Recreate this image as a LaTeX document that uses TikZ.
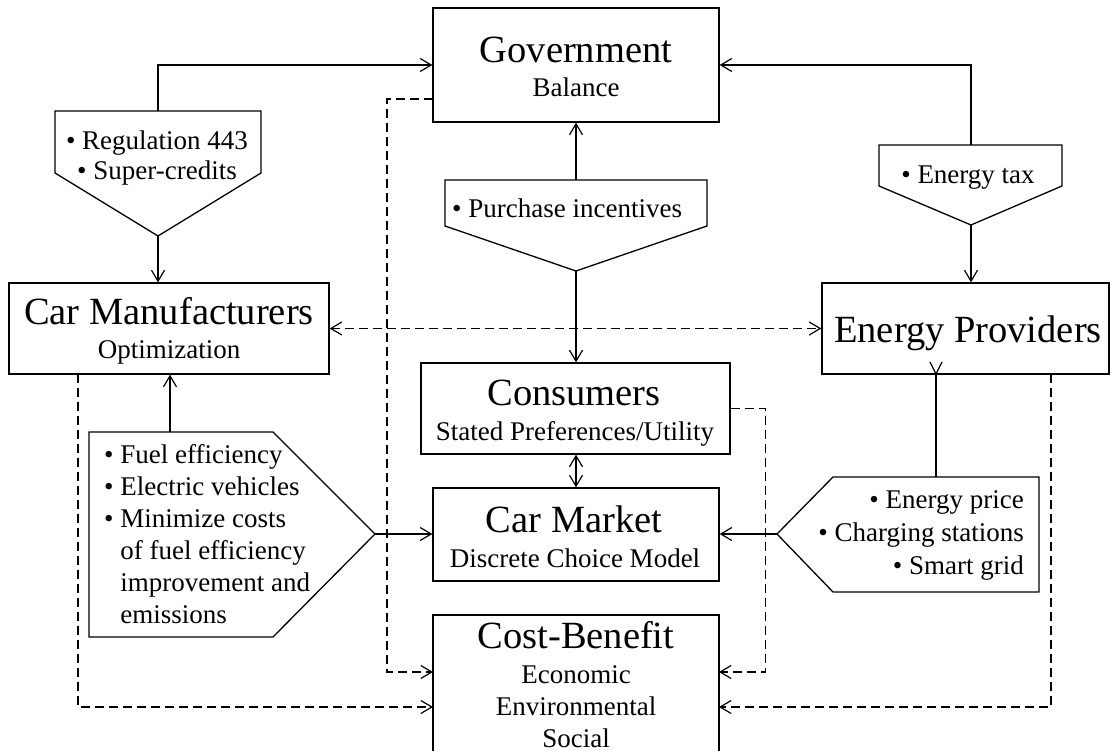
\documentclass[tikz,border=0pt]{standalone}
\usepackage{fontspec}
\setmainfont{Liberation Serif}
\usetikzlibrary{arrows.meta}
\newcommand\ttlfont{\fontsize{38.5}{44}\selectfont}
\newcommand\txtfont{\fontsize{27}{32}\selectfont}
\begin{document}
\begin{tikzpicture}[x=1pt,y=-1pt,
  box/.style={draw, line width=1.3pt, rectangle, inner sep=0pt},
  tag/.style={draw, line width=1.3pt, line join=miter},
  ttl/.style={font=\ttlfont, inner sep=0pt, anchor=base},
  sub/.style={font=\txtfont, inner sep=0pt, anchor=base},
  subl/.style={sub, anchor=base west},
  subr/.style={sub, anchor=base east},
  link/.style={line width=1.2pt},
  conn/.style={link, -{Straight Barb[length=11pt,width=13pt]}},
  dconn/.style={conn, dash pattern=on 9pt off 5pt},
  both/.style={link, {Straight Barb[length=11pt,width=13pt]}-{Straight Barb[length=11pt,width=13pt]}}]

\clip (0,0) rectangle (1111,751);

% main boxes
\node[box, minimum width=286pt, minimum height=114pt] (gov) at (576,65) {};
\node[box, minimum width=320pt, minimum height=91pt]  (cm)  at (169,328.5) {};
\node[box, minimum width=287pt, minimum height=91pt]  (ep)  at (965.5,328.5) {};
\node[box, minimum width=309pt, minimum height=91pt]  (con) at (575.5,408.5) {};
\node[box, minimum width=286pt, minimum height=93pt]  (mkt) at (576,534.5) {};
\node[box, minimum width=286pt, minimum height=155pt] (cb)  at (576,692.5) {};

% box texts
\node[ttl] (gov-t) at (576,63) {Government};
\node[sub] (gov-s) at (576,97) {Balance};
\node[ttl] (cm-t) at (169,325) {Car Manufacturers};
\node[sub] (cm-s) at (169,359) {Optimization};
\node[ttl] (ep-t) at (968,342) {Energy Providers};
\node[ttl] (con-t) at (574,405) {Consumers};
\node[sub] (con-s) at (575,440) {Stated Preferences/Utility};
\node[ttl] (mkt-t) at (574,532) {Car Market};
\node[sub] (mkt-s) at (575,567) {Discrete Choice Model};
\node[ttl] (cb-t) at (576,648) {Cost-Benefit};
\node[sub] (cb-s1) at (576,683) {Economic};
\node[sub] (cb-s2) at (576,715) {Environmental};
\node[sub] (cb-s3) at (576,747) {Social};

% policy tags
\draw[tag] (55,111) -- (261,111) -- (261,173) -- (158,236) -- (55,173) -- cycle;
\coordinate (reg-top) at (158,111);
\coordinate (reg-tip) at (158,236);
\node[sub] (reg-1) at (157,150) {• Regulation 443};
\node[sub] (reg-2) at (157,180) {• Super-credits};

\draw[tag] (879,145) -- (1062,145) -- (1062,186) -- (971,225) -- (879,186) -- cycle;
\coordinate (tax-top) at (971,145);
\coordinate (tax-tip) at (971,225);
\node[sub] (tax-1) at (968,184) {• Energy tax};

\draw[tag] (445,180) -- (707,180) -- (707,226) -- (576,271) -- (445,226) -- cycle;
\coordinate (pur-top) at (576,180);
\coordinate (pur-tip) at (576,271);
\node[subl] (pur-1) at (452,218) {• Purchase incentives};

\draw[tag] (89,432) -- (273,432) -- (375,534) -- (273,637) -- (89,637) -- cycle;
\coordinate (fuel-top) at (170,432);
\coordinate (fuel-tip) at (375,534);
\node[subl] (fuel-1) at (104,463) {• Fuel efficiency};
\node[subl] (fuel-2) at (104,495) {• Electric vehicles};
\node[subl] (fuel-3) at (104,527) {• Minimize costs};
\node[subl] (fuel-4) at (104,559) {\hphantom{•\ }of fuel efficiency};
\node[subl] (fuel-5) at (104,591) {\hphantom{•\ }improvement and};
\node[subl] (fuel-6) at (104,623) {\hphantom{•\ }emissions};

\draw[tag] (777,534) -- (833,477) -- (1039,477) -- (1039,592) -- (833,592) -- cycle;
\coordinate (pr-top) at (936,477);
\coordinate (pr-tip) at (777,534);
\node[subr] (pr-1) at (1024,508) {• Energy price};
\node[subr] (pr-2) at (1024,541) {• Charging stations};
\node[subr] (pr-3) at (1024,574) {• Smart grid};

% solid connectors
\draw[conn] (reg-top) |- (gov.west);
\draw[conn] (reg-tip) -- (reg-tip |- cm.north);
\draw[conn] (tax-top) |- (gov.east);
\draw[conn] (tax-tip) -- (tax-tip |- ep.north);
\draw[conn] (pur-top) -- (pur-top |- gov.south);
\draw[conn] (pur-tip) -- (pur-tip |- con.north);
\draw[both] (con.south -| mkt.north) -- (mkt.north);
\draw[conn] (fuel-top) -- (fuel-top |- cm.south);
\draw[conn] (fuel-tip) -- (fuel-tip -| mkt.west);
\draw[conn] (pr-tip) -- (pr-tip -| mkt.east);
\coordinate (ep-foot) at (936,374);
\draw[link] (pr-top) -- (ep-foot);
\draw[link] (930,362) -- (ep-foot) -- (942,362);

% dashed feedback links
\draw[dconn, {Straight Barb[length=11pt,width=13pt]}-{Straight Barb[length=11pt,width=13pt]}] (cm.east) -- (ep.west);
\coordinate (gov-dash) at (433,99);
\coordinate (cbL1) at (433,672);
\coordinate (cbL2) at (433,707);
\coordinate (cbR1) at (719,672);
\coordinate (cbR2) at (719,707);
\coordinate (cm-dash) at (78,374);
\coordinate (ep-dash) at (1051,374);
\draw[dconn] (gov-dash) -- ++(-46,0) |- (cbL1);
\draw[dconn] (cm-dash) |- (cbL2);
\draw[dconn] (con.east) -- ++(35,0) |- (cbR1);
\draw[dconn] (ep-dash) |- (cbR2);
\end{tikzpicture}
\end{document}
